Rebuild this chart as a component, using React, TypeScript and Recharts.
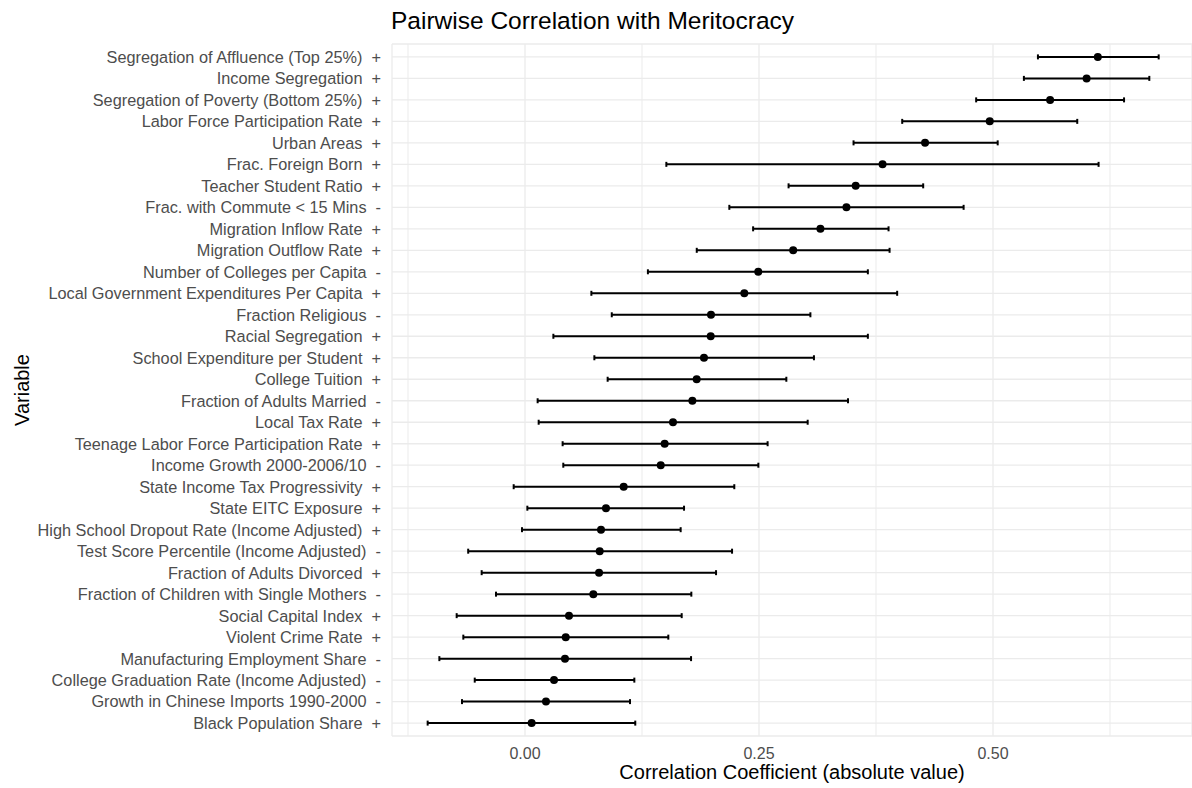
import {
  ScatterChart,
  Scatter,
  XAxis,
  YAxis,
  CartesianGrid,
  ErrorBar,
  ReferenceLine,
} from "recharts";

const variables = [
  "Segregation of Affluence (Top 25%)",
  "Income Segregation",
  "Segregation of Poverty (Bottom 25%)",
  "Labor Force Participation Rate",
  "Urban Areas",
  "Frac. Foreign Born",
  "Teacher Student Ratio",
  "Frac. with Commute < 15 Mins",
  "Migration Inflow Rate",
  "Migration Outflow Rate",
  "Number of Colleges per Capita",
  "Local Government Expenditures Per Capita",
  "Fraction Religious",
  "Racial Segregation",
  "School Expenditure per Student",
  "College Tuition",
  "Fraction of Adults Married",
  "Local Tax Rate",
  "Teenage Labor Force Participation Rate",
  "Income Growth 2000-2006/10",
  "State Income Tax Progressivity",
  "State EITC Exposure",
  "High School Dropout Rate (Income Adjusted)",
  "Test Score Percentile (Income Adjusted)",
  "Fraction of Adults Divorced",
  "Fraction of Children with Single Mothers",
  "Social Capital Index",
  "Violent Crime Rate",
  "Manufacturing Employment Share",
  "College Graduation Rate (Income Adjusted)",
  "Growth in Chinese Imports 1990-2000",
  "Black Population Share",
];

const signs = [
  "+", "+", "+", "+", "+", "+", "+", "-", "+", "+", "-", "+", "-", "+", "+", "+",
  "-", "+", "+", "-", "+", "+", "+", "-", "+", "-", "+", "+", "-", "-", "-", "+",
];

const estimates = [
  0.612, 0.6, 0.561, 0.4965, 0.4274, 0.382, 0.3533, 0.3434, 0.3156, 0.2865,
  0.2492, 0.2343, 0.1987, 0.1984, 0.1912, 0.1834, 0.1788, 0.1581, 0.1492, 0.145,
  0.1054, 0.0865, 0.0812, 0.0798, 0.0791, 0.073, 0.047, 0.0435, 0.0427, 0.031,
  0.0224, 0.0071,
];

const lower = [
  0.548, 0.533, 0.482, 0.403, 0.351, 0.151, 0.2816, 0.2183, 0.2437, 0.1835,
  0.1313, 0.0709, 0.0927, 0.0303, 0.0741, 0.0883, 0.0135, 0.0146, 0.0402, 0.0409,
  -0.0121, 0.0025, -0.0032, -0.0607, -0.0463, -0.031, -0.073, -0.0659, -0.0915,
  -0.0537, -0.0673, -0.104,
];

const upper = [
  0.677, 0.667, 0.64, 0.59, 0.505, 0.6128, 0.4254, 0.4686, 0.3884, 0.3895,
  0.3663, 0.3976, 0.3049, 0.3663, 0.3087, 0.2792, 0.3451, 0.302, 0.2592, 0.2493,
  0.2236, 0.1699, 0.1663, 0.2212, 0.2041, 0.1777, 0.1674, 0.1531, 0.1774, 0.1168,
  0.1122, 0.1178,
];

const majorTicks = [0, 0.25, 0.5];
const minorTicks = [-0.125, 0.125, 0.375, 0.625];

const data = variables.map((name, i) => ({
  idx: i,
  name,
  est: estimates[i],
  err: [estimates[i] - lower[i], upper[i] - estimates[i]],
}));

const font = '"Liberation Sans", Arial, Helvetica, sans-serif';
const gridColor = "#ebebeb";

function VariableTick(props: any) {
  const { x, y, payload } = props;
  const i = payload.value as number;
  return (
    <text
      x={x}
      y={y}
      dy="0.36em"
      textAnchor="end"
      fill="#4d4d4d"
      fontSize={16.3}
      fontFamily={font}
      style={{ whiteSpace: "pre" }}
    >
      {`${variables[i]}  ${signs[i]}`}
    </text>
  );
}

function Dot(props: any) {
  return <circle cx={props.cx} cy={props.cy} r={4} fill="#000" />;
}

export default function App() {
  return (
    <div
      style={{
        position: "absolute",
        left: 0,
        top: 0,
        width: 1192,
        height: 788,
        background: "#fff",
        fontFamily: font,
      }}
    >
      <div
        style={{
          position: "absolute",
          left: 391,
          top: 9,
          fontSize: 24.5,
          lineHeight: "24px",
          color: "#000",
          whiteSpace: "nowrap",
        }}
      >
        Pairwise Correlation with Meritocracy
      </div>
      <ScatterChart
        width={1192}
        height={788}
        margin={{ top: 44, right: 0, bottom: 0, left: 0 }}
      >
        <CartesianGrid stroke={gridColor} strokeWidth={1.3} />
        {minorTicks.map((t) => (
          <ReferenceLine
            key={t}
            x={t}
            stroke={gridColor}
            strokeWidth={1}
            ifOverflow="extendDomain"
          />
        ))}
        <XAxis
          type="number"
          dataKey="est"
          domain={[-0.1421, 0.7126]}
          allowDataOverflow
          ticks={majorTicks}
          tickFormatter={(v: number) => v.toFixed(2)}
          height={52}
          axisLine={false}
          tickLine={false}
          tickMargin={6}
          tick={{ fill: "#4d4d4d", fontSize: 16, fontFamily: font }}
        />
        <YAxis
          type="number"
          dataKey="idx"
          domain={[-0.6, 31.6]}
          allowDataOverflow
          reversed
          ticks={variables.map((_, i) => i)}
          interval={0}
          width={392}
          axisLine={false}
          tickLine={false}
          tickSize={0}
          tickMargin={11}
          tick={<VariableTick />}
        />
        <Scatter
          data={data}
          dataKey="est"
          fill="#000"
          shape={<Dot />}
          isAnimationActive={false}
        >
          <ErrorBar
            dataKey="err"
            direction="x"
            width={2.5}
            stroke="#000"
            strokeWidth={2}
          />
        </Scatter>
      </ScatterChart>
      <div
        style={{
          position: "absolute",
          left: 392,
          width: 800,
          top: 762,
          textAlign: "center",
          fontSize: 20,
          lineHeight: "20px",
          color: "#000",
          whiteSpace: "nowrap",
        }}
      >
        Correlation Coefficient (absolute value)
      </div>
      <div
        style={{
          position: "absolute",
          left: 22,
          top: 390,
          transform: "translate(-50%, -50%) rotate(-90deg)",
          fontSize: 20,
          lineHeight: "20px",
          color: "#000",
          whiteSpace: "nowrap",
        }}
      >
        Variable
      </div>
    </div>
  );
}
